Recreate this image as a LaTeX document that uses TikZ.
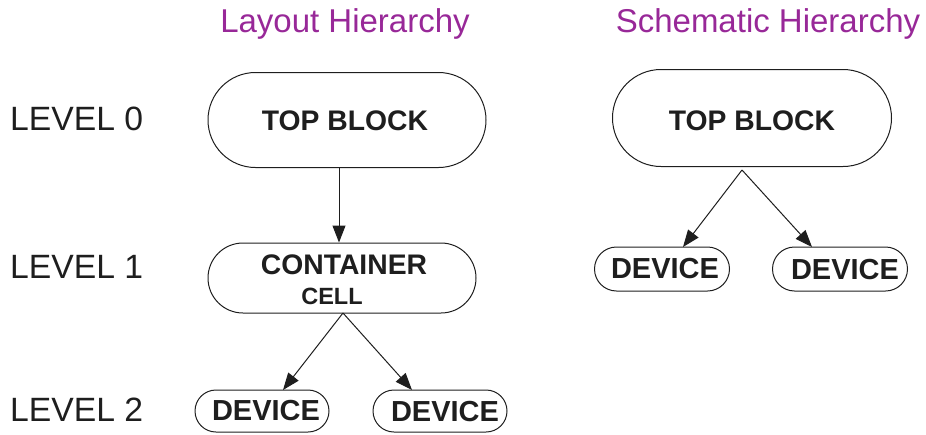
\documentclass[tikz,border=0pt]{standalone}
\usepackage{fontspec}
\setmainfont{Liberation Sans}
\usetikzlibrary{arrows.meta}
\definecolor{hpurple}{RGB}{152,40,152}
\definecolor{ink}{RGB}{30,30,30}
\tikzset{
  pill/.style={draw=ink, line width=1pt, rectangle, inner sep=0pt},
  boldtxt/.style={text=ink, font=\fontsize{28.3}{30}\selectfont\bfseries, inner sep=0pt},
  devtxt/.style={text=ink, font=\fontsize{29}{31}\selectfont\bfseries, inner sep=0pt},
  leveltxt/.style={text=ink, font=\fontsize{33.7}{35}\selectfont, anchor=west, inner sep=0pt},
  titletxt/.style={text=hpurple, font=\fontsize{33}{35}\selectfont, inner sep=0pt},
  conn/.style={draw=ink, line width=1pt, -{Triangle[length=17pt,width=13pt]}}
}
\begin{document}
\begin{tikzpicture}[x=1pt,y=-1pt]
\useasboundingbox (0,0) rectangle (926,434);
% titles
\node[titletxt] (t1) at (345,24) {Layout Hierarchy};
\node[titletxt] (t2) at (768,24) {Schematic Hierarchy};
% levels
\node[leveltxt] (l0) at (10,119) {LEVEL 0};
\node[leveltxt] (l1) at (10,267) {LEVEL 1};
\node[leveltxt] (l2) at (10,410) {LEVEL 2};
% layout hierarchy
\node[pill, minimum width=278pt, minimum height=95pt, rounded corners=47.5pt] (ltop) at (347,120) {};
\node[boldtxt] (ltoptxt) at (345,121) {TOP BLOCK};
\node[pill, minimum width=268pt, minimum height=70pt, rounded corners=35pt] (cont) at (342,278) {};
\node[boldtxt] (conttxt) at (344,265) {CONTAINER};
\node[text=ink, font=\fontsize{23.5}{25}\selectfont\bfseries, inner sep=0pt] (celltxt) at (332,296) {CELL};
\node[pill, minimum width=134pt, minimum height=42pt, rounded corners=21pt] (ld1) at (262,411) {};
\node[devtxt] (ld1t) at (266,411) {DEVICE};
\node[pill, minimum width=134pt, minimum height=42pt, rounded corners=21pt] (ld2) at (440,411) {};
\node[devtxt] (ld2t) at (445,412) {DEVICE};
\draw[conn] (ltop.south -| 339,0) -- (cont.north -| 339,0);
\coordinate (csplit) at (343,313);
\draw[conn] (csplit) -- (283,390);
\draw[conn] (csplit) -- (412,390);
% schematic hierarchy
\node[pill, minimum width=279pt, minimum height=97pt, rounded corners=48.5pt] (stop) at (752,118) {};
\node[boldtxt] (stoptxt) at (752,121) {TOP BLOCK};
\node[pill, minimum width=135pt, minimum height=44pt, rounded corners=22pt] (sd1) at (662,269) {};
\node[devtxt] (sd1t) at (665,269) {DEVICE};
\node[pill, minimum width=135pt, minimum height=44pt, rounded corners=22pt] (sd2) at (840,269) {};
\node[devtxt] (sd2t) at (845,270) {DEVICE};
\coordinate (ssplit) at (742,170);
\draw[conn] (ssplit) -- (683,247);
\draw[conn] (ssplit) -- (812,247);
\end{tikzpicture}
\end{document}
